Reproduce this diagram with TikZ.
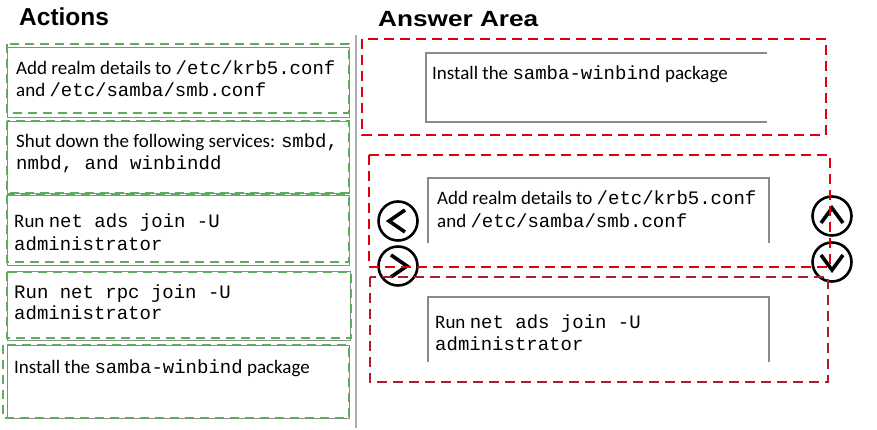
\documentclass[tikz,border=0pt]{standalone}
\usepackage{fontspec}
\setmainfont{Carlito}
\setmonofont{Liberation Mono}
\newfontfamily\headfont{Liberation Sans}
\usetikzlibrary{positioning}
\usepackage{xcolor}
\definecolor{boxgray}{HTML}{8A8A8A}
\definecolor{dashgreen}{HTML}{5AAE5A}
\definecolor{dashred}{HTML}{E0000B}
\definecolor{darkred}{HTML}{B01A30}

\begin{document}
\begin{tikzpicture}[x=1pt, y=-1pt,
    actbox/.style={draw=boxgray, line width=1.3pt, rectangle, anchor=north west, inner sep=0pt},
    greendash/.style={draw=dashgreen, line width=2pt, dash pattern=on 9pt off 6pt},
    reddash/.style={draw=dashred, line width=2.3pt, dash pattern=on 10pt off 6pt},
    ansline/.style={draw=boxgray, line width=1.2pt},
    txt/.style={anchor=base west, inner sep=0pt, font=\fontsize{19}{22}\selectfont},
    head/.style={anchor=base west, inner sep=0pt, font=\headfont\bfseries},
    navbtn/.style={draw=black, circle, line width=2.6pt, minimum size=39pt, inner sep=0pt},
    chev/.style={draw=black, line width=3.6pt}]
    \useasboundingbox[fill=white] (0,0) rectangle (877,430);

    \node (actions) [head, font=\headfont\bfseries\fontsize{24.5}{28}\selectfont] at (19,26) {Actions};
    \node (answer) [head, font=\headfont\bfseries\fontsize{22}{26}\selectfont] at (378,27) {\scalebox{1.19}[1]{Answer Area}};

    \draw[draw=boxgray!70, line width=1.6pt] (356,35) -- (356,428);

    \node (b1) [actbox, minimum width=342, minimum height=70] at (7,47) {};
    \node (b2) [actbox, minimum width=342, minimum height=72] at (7,121) {};
    \node (b3) [actbox, minimum width=342, minimum height=70] at (7,195) {};
    \node (b4) [actbox, minimum width=343, minimum height=69] at (7,271) {};
    \node (b5) [actbox, minimum width=342, minimum height=73] at (7,345) {};

    \draw[greendash] (7,44) rectangle (349,113);
    \draw[greendash] (7,121) rectangle (349,193);
    \draw[greendash] (7,195) rectangle (349,262);
    \draw[greendash] (7,272) rectangle (351,338);
    \draw[greendash] (3,345) rectangle (349,418);

    \node (t1a) [txt] at (16,75) {Add realm details to \texttt{/etc/krb5.conf}};
    \node (t1b) [txt] at (16,97) {and \texttt{/etc/samba/smb.conf}};
    \node (t2a) [txt] at (16,148) {Shut down the following services: \texttt{smbd,}};
    \node (t2b) [txt] at (16,170) {\texttt{nmbd, and winbindd}};
    \node (t3a) [txt] at (14,228) {Run \texttt{net ads join -U}};
    \node (t3b) [txt] at (14,250) {\texttt{administrator}};
    \node (t4a) [txt] at (14,298) {\texttt{Run net rpc join -U}};
    \node (t4b) [txt] at (14,319) {\texttt{administrator}};
    \node (t5a) [txt] at (14,373) {Install the \texttt{samba-winbind} package};

    \draw[ansline] (767,53) -| (426,122) -- (767,122);
    \draw[ansline] (428,243) |- (769,178) -- (769,243);
    \draw[ansline] (428,362) |- (769,297) -- (769,362);

    \node (r1) [txt] at (432,80) {Install the \texttt{samba-winbind} package};
    \node (r2a) [txt] at (437,205) {Add realm details to \texttt{/etc/krb5.conf}};
    \node (r2b) [txt] at (437,228) {and \texttt{/etc/samba/smb.conf}};
    \node (r3a) [txt] at (435,328) {Run \texttt{net ads join -U}};
    \node (r3b) [txt] at (435,350) {\texttt{administrator}};

    \node (mvleft) [navbtn] at (398,221) {};
    \node (mvright) [navbtn] at (398,266) {};
    \node (mvup) [navbtn] at (832,216) {};
    \node (mvdown) [navbtn] at (832,262) {};

    \draw[chev] ([shift={(7,-11)}]mvleft.center) -- ([shift={(-9,0)}]mvleft.center) -- ([shift={(7,11)}]mvleft.center);
    \draw[chev] ([shift={(-7,-11)}]mvright.center) -- ([shift={(9,0)}]mvright.center) -- ([shift={(-7,11)}]mvright.center);
    \draw[chev] ([shift={(-11,7)}]mvup.center) -- ([shift={(0,-8)}]mvup.center) -- ([shift={(11,7)}]mvup.center);
    \draw[chev] ([shift={(-11,-7)}]mvdown.center) -- ([shift={(0,8)}]mvdown.center) -- ([shift={(11,-7)}]mvdown.center);

    \draw[reddash] (362,39) rectangle (826,135);
    \draw[reddash] (369,155) rectangle (830,267);
    \draw[reddash, draw=darkred] (370,277) rectangle (828,382);
\end{tikzpicture}
\end{document}
